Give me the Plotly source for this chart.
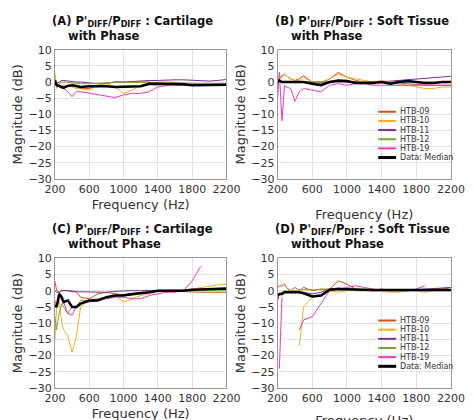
import plotly.graph_objects as go

freq = [200, 220, 250, 280, 300, 350, 400, 450, 500, 600, 700, 800, 900, 1000,
        1100, 1200, 1300, 1400, 1500, 1600, 1700, 1800, 1900, 2000, 2100, 2200]
subjects = ['HTB-09', 'HTB-10', 'HTB-11', 'HTB-12', 'HTB-19', 'Data: Median']
colors = ['#D95319', '#EDB120', '#7E2F8E', '#77AC30', '#F23BB0', '#000000']

# (A) cartilage with phase
a_09 = [2, -1, -1, -1.5, -1.5, -1, -1, -1.5, -2, -2, -1, -0.5, 0, 0, 0, 0, 0, -0.5, -0.5, -1, -1, -1, -1, -1, -1, -1]
a_10 = [3, -2, -1, -1, -1, -1, -1.5, -2, -2, -2.5, -1, -0.5, -1.5, -3.5, -2.5, -1, -0.5, 0, 0, 0, -0.5, -1, -1, -1, -1, -1]
a_11 = [0, -0.5, 0, 0.5, 0.5, 0.3, 0, 0, 0, -0.3, -0.5, -0.3, 0, 0, 0.2, 0.3, 0.5, 0.5, 0.7, 0.7, 0.7, 0.5, 0.3, 0.3, 0.5, 0.8]
a_12 = [0, -1, -0.5, 0, 0, 0, -0.3, -0.5, -0.5, -0.5, -0.5, -0.3, 0, 0, 0, 0, 0, 0, 0, -0.2, -0.3, -0.5, -0.5, -0.5, -0.5, -0.5]
a_19 = [0, -1, -1.5, -2, -2, -3, -4.5, -3, -3, -3.5, -4, -4.5, -4.8, -4, -3.5, -3.5, -3, -1.5, -1, -0.7, -0.7, -0.8, -1, -1, -1, -1]
a_med = [0.5, -1, -1.2, -1.5, -1.8, -1.2, -1, -1.2, -1.5, -1.3, -1.2, -1.3, -1.5, -1.5, -1.5, -1.3, -0.5, -0.5, -0.5, -0.5, -0.7, -1, -1, -1, -1, -0.8]

# (B) soft tissue with phase
b_09 = [0, 1, 2, 2.5, 2, 1, 0.5, 1, 2, 0, -0.5, 1, 3, 1.5, 0.5, 0, 0, 0, -0.5, -0.5, -0.5, -0.8, -1, -1, -1, -1]
b_10 = [0, 2, 1.5, 2.5, 2, 1, 0.5, 0.5, 1.5, 0, 0, 1, 2.5, 1.5, 1, 0.5, 0, 0.5, 0, -0.5, -1, -1.5, -2, -2, -1.5, -1.5]
b_11 = [0, 0, 0, 0, 0, 0, 0, 0, 0, 0, 0, 0, 0, 0, 0, 0, 0, 0, 0.3, 0.5, 0.7, 1, 1, 1.2, 1.5, 1.8]
b_12 = [0, 0.5, 0, 0, 0, 0, 0, 0, 0, 0, 0, 0, 0.3, 0.2, 0, 0, 0, 0, 0, 0, 0, 0, 0, 0, 0, 0]
b_19 = [-5, 3, -12, -1, -1.5, -2, -6, -3, -2, -2.5, -3, -1, -0.5, -1, -0.5, -0.5, -1, -1, -1, -0.8, -0.8, -0.8, -0.8, -0.8, -0.8, -1]
b_med = [0, 0.5, 0, 0, 0, 0, 0, 0, 0, -0.5, -1, 0, 0.5, 0.3, -0.3, -0.3, -0.3, 0, -0.5, 0, 0.3, 0, -0.3, -0.3, 0, 0]

# (C) cartilage without phase
c_09 = [3, 0, -0.5, 0, 0, 0, 0, -0.5, -2, -2.5, -1, -0.5, -1, -1.2, -1, -0.8, -0.5, 0, 0, 0, -0.3, -0.5, -0.5, -0.5, -0.5, -0.5]
c_10 = [-15, -5, -3, -10, -12, -14, -19, -14, -5, -3, -2.5, -2, -1.5, -3.5, -2.5, -1.5, -1, 0, 0, 0, 0, 0.5, 1, 1.5, 1.8, 2]
c_11 = [0, -0.5, -0.5, 0, 0, 0, -0.3, -0.3, -0.5, -0.5, -0.5, -0.5, -0.2, 0, 0, 0, 0, 0.2, 0.2, 0.2, 0.2, 0.2, 0.3, 0.3, 0.3, 0.3]
c_12 = [-8, -12, -7, -4, -5, -7, -5, -5, -3, -3, -2.5, -2, -1.5, -1.5, -1.5, -1, -0.5, 0, 0, 0, 0, 0, 0, 0, 0, 0]
c_19 = [-3, -5, -2, -3, -3.5, -7, -7.5, -5, -4, -3.5, -3, -2.5, -2, -2, -2.5, -2.5, -1.5, -1, -0.5, -0.5, 0, 3, 7.5, None, None, None]
c_med = [-4.5, -5, -1, -2, -3.5, -3, -5, -5, -4, -3, -3, -2, -1.5, -1.5, -1, -0.8, -0.5, 0, 0, 0, 0, 0.3, 0.4, 0.5, 0.6, 0.7]

# (D) soft tissue without phase
d_09 = [1, 1.5, 1.5, 2, 1, 0, 1, 0, 1, 0, 0.5, 0.5, 3, 2, 0.5, 0, 0, 0.5, 0, 0, 0, 0, 0, 0.5, 0.5, 1]
d_10 = [None, None, None, None, None, None, None, -17, -5, -2, -1.5, 0, -0.5, 0, 0, 0, 0, 0, -0.5, -0.5, 0, 0, -0.5, 0, 0, 0]
d_11 = [-3, -1, -1, -0.5, -0.5, -0.5, -0.5, -0.5, -0.5, -1, -0.5, 0.5, 0.8, 0.5, 0.3, 0, 0, 0, 0, 0, 0, 0.3, 0.5, 0.5, 0.8, 1]
d_12 = [-2, -1, -0.5, 0, 0, 0, 0, 0.3, 0.3, 0.5, 0.5, 0.5, 0.5, 0.3, 0, 0, 0, 0, 0, 0, 0, 0, 0, 0, 0, 0]
d_19 = [None, -24, -2, None, None, None, None, -12, -9, -8, -4, 0, 0.5, 1, 1.5, 1, 0.5, 0, 0, 0, 0, 0.5, 1.5, None, None, None]
d_med = [-1.5, -1, -1, -0.5, -0.5, -0.5, -0.5, -0.5, -0.8, -1.8, -1.5, 0.3, 0.5, 0.5, 0.3, 0.3, 0.2, 0.2, 0.1, 0.1, 0.2, 0.2, 0.2, 0.2, 0.2, 0.2]

panels = [
    ('(A)', 'Cartilage', 'with Phase', [a_09, a_10, a_11, a_12, a_19, a_med]),
    ('(B)', 'Soft Tissue', 'with Phase', [b_09, b_10, b_11, b_12, b_19, b_med]),
    ('(C)', 'Cartilage', 'without Phase', [c_09, c_10, c_11, c_12, c_19, c_med]),
    ('(D)', 'Soft Tissue', 'without Phase', [d_09, d_10, d_11, d_12, d_19, d_med]),
]
xdom = [[0.080, 0.462], [0.576, 0.962]] * 2
ydom = [[0.595, 0.912]] * 2 + [[0.081, 0.400]] * 2

fig = go.Figure()
for i, (tag, tissue, phase, series) in enumerate(panels):
    n = '' if i == 0 else str(i + 1)
    for name, col, y in zip(subjects, colors, series):
        is_med = name == 'Data: Median'
        fig.add_trace(go.Scatter(
            x=freq, y=y, name=name, mode='lines', showlegend=False,
            line=dict(color=col, width=2.5 if is_med else 1),
            xaxis='x' + n, yaxis='y' + n))
    axstyle = dict(showline=True, mirror=True, linecolor='#999999', linewidth=1,
                   gridcolor='#e3e3e3', zeroline=False, ticks='',
                   tickfont=dict(size=11, color='#333333'))
    fig.update_layout(**{
        'xaxis' + n: dict(domain=xdom[i], anchor='y' + n, range=[200, 2200],
                          tickvals=[200, 600, 1000, 1400, 1800, 2200],
                          title=dict(text='Frequency (Hz)', font=dict(size=13, color='#333333'),
                                     standoff=4 if i in (0, 2) else 14),
                          **axstyle),
        'yaxis' + n: dict(domain=ydom[i], anchor='x' + n, range=[-30, 10], dtick=5,
                          title=dict(text='Magnitude (dB)', font=dict(size=13, color='#333333'),
                                     standoff=2),
                          **axstyle),
    })
    fig.add_annotation(
        x=xdom[i][0] - 0.01, y=ydom[i][1] + 0.012, xref='paper', yref='paper',
        xanchor='left', yanchor='bottom', align='left', showarrow=False,
        text=f"<b>{tag} P'<sub>DIFF</sub>/P<sub>DIFF</sub> : {tissue}<br>    {phase}</b>",
        font=dict(size=11.5, color='#111111', family='DejaVu Sans'))

    # compact legend drawn inside panels B and D
    if i in (1, 3):
        top = ydom[i][0] + 0.52 * (ydom[i][1] - ydom[i][0])
        step = 0.0225
        for k, (name, col) in enumerate(zip(subjects, colors)):
            yy = top - k * step
            fig.add_shape(type='line', xref='paper', yref='paper',
                          x0=0.80, x1=0.84, y0=yy, y1=yy,
                          line=dict(color=col, width=3 if k == 5 else 2))
            fig.add_annotation(x=0.845, y=yy, xref='paper', yref='paper',
                               xanchor='left', yanchor='middle', showarrow=False,
                               text=name, font=dict(size=8, color='#333333'))

fig.update_layout(
    width=474, height=420, margin=dict(l=0, r=0, t=0, b=0),
    paper_bgcolor='white', plot_bgcolor='white',
    font=dict(family='DejaVu Sans'),
)
fig.write_html('out.html')
